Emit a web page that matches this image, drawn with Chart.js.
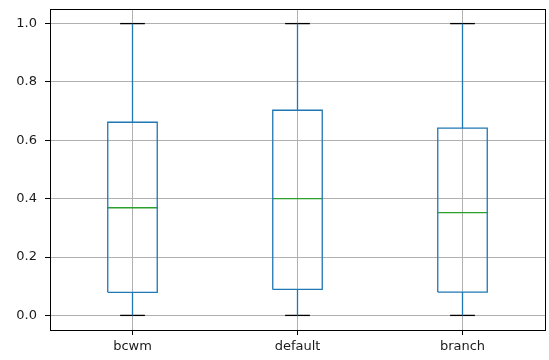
<!DOCTYPE html>
<html>
<head>
<meta charset="utf-8">
<script src="https://cdn.jsdelivr.net/npm/chart.js@4/dist/chart.umd.min.js"></script>
<style>
html,body{margin:0;padding:0;background:#fff;}
#wrap{width:549px;height:360px;}
</style>
</head>
<body>
<div id="wrap"><canvas id="c" width="549" height="360"></canvas></div>
<script>
// ---- data ----
const categories = ['bcwm', 'default', 'branch'];
const whiskerLow  = [0.0, 0.0, 0.0];
const q1          = [0.079, 0.089, 0.080];
const median      = [0.369, 0.400, 0.352];
const q3          = [0.662, 0.703, 0.642];
const whiskerHigh = [1.0, 1.0, 1.0];
const yTicks = [0.0, 0.2, 0.4, 0.6, 0.8, 1.0];

// ---- styles ----
const BOX_HALF = 0.15, CAP_HALF = 0.075;
const BLUE = '#1f77b4', GREEN = '#2ca02c', BLACK = '#000000';
const LW = 1.3;

function seg(points, color) {
  return {
    type: 'line',
    data: points,
    borderColor: color,
    backgroundColor: 'transparent',
    borderWidth: LW,
    pointRadius: 0,
    pointHoverRadius: 0,
    tension: 0,
    fill: false
  };
}

const datasets = [];
categories.forEach((c, i) => {
  const x = i + 1;
  datasets.push(seg([
    {x: x - BOX_HALF, y: q1[i]}, {x: x + BOX_HALF, y: q1[i]},
    {x: x + BOX_HALF, y: q3[i]}, {x: x - BOX_HALF, y: q3[i]},
    {x: x - BOX_HALF, y: q1[i]}
  ], BLUE));
  datasets.push(seg([{x: x, y: q1[i]}, {x: x, y: whiskerLow[i]}], BLUE));
  datasets.push(seg([{x: x, y: q3[i]}, {x: x, y: whiskerHigh[i]}], BLUE));
  datasets.push(seg([{x: x - CAP_HALF, y: whiskerLow[i]}, {x: x + CAP_HALF, y: whiskerLow[i]}], BLACK));
  datasets.push(seg([{x: x - CAP_HALF, y: whiskerHigh[i]}, {x: x + CAP_HALF, y: whiskerHigh[i]}], BLACK));
  datasets.push(seg([{x: x - BOX_HALF, y: median[i]}, {x: x + BOX_HALF, y: median[i]}], GREEN));
});

const frame = {
  id: 'frame',
  afterDraw(chart) {
    const a = chart.chartArea, ctx = chart.ctx;
    ctx.save();
    ctx.strokeStyle = '#000';
    ctx.lineWidth = 1;
    ctx.strokeRect(Math.round(a.left) + 0.5, Math.round(a.top) + 0.5,
                   Math.round(a.right - a.left), Math.round(a.bottom - a.top));
    ctx.restore();
  }
};

const FONT = {family: '"DejaVu Sans", sans-serif', size: 13};

new Chart(document.getElementById('c'), {
  type: 'line',
  data: {datasets},
  options: {
    responsive: false,
    animation: false,
    devicePixelRatio: 1,
    layout: {padding: {top: 9, right: 4, left: 0, bottom: 0}},
    plugins: {legend: {display: false}, tooltip: {enabled: false}},
    scales: {
      x: {
        type: 'linear',
        min: 0.5, max: 3.5,
        afterFit(s) { s.height = 30; s.paddingLeft = 0; s.paddingRight = 0; },
        afterBuildTicks(s) { s.ticks = categories.map((c, i) => ({value: i + 1})); },
        ticks: {
          callback: (v) => categories[Math.round(v) - 1],
          font: FONT, color: '#1a1a1a', padding: 4, maxRotation: 0, autoSkip: false
        },
        grid: {color: '#b0b0b0', lineWidth: 1, tickLength: 5, tickColor: '#000', drawTicks: true},
        border: {display: false}
      },
      y: {
        type: 'linear',
        min: -0.05, max: 1.05,
        afterFit(s) { s.width = 50; s.paddingTop = 0; s.paddingBottom = 0; },
        afterBuildTicks(s) { s.ticks = yTicks.map(v => ({value: v})); },
        ticks: {
          callback: (v) => Number(v).toFixed(1),
          font: FONT, color: '#1a1a1a', padding: 8, autoSkip: false
        },
        grid: {color: '#b0b0b0', lineWidth: 1, tickLength: 5, tickColor: '#000', drawTicks: true},
        border: {display: false}
      }
    }
  },
  plugins: [frame]
});
</script>
</body>
</html>
